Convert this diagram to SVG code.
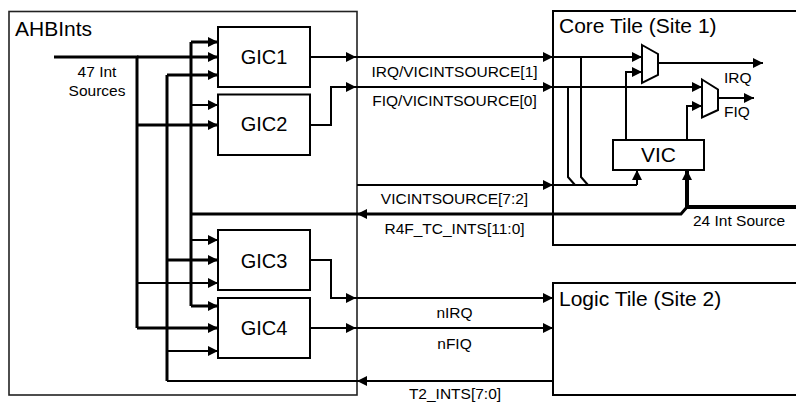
<svg xmlns="http://www.w3.org/2000/svg" width="796" height="403" viewBox="0 0 796 403">
<style>
.box{fill:#fff;stroke:#000;stroke-width:2}
.frame{fill:none;stroke:#222;stroke-width:1.6}
.t{font-family:"Liberation Sans",Arial,sans-serif;fill:#000}
.big{font-size:21px}
.gic{font-size:20px}
.sm{font-size:15.5px}
.thin{fill:none;stroke:#000;stroke-width:2}
.thk{fill:none;stroke:#000;stroke-width:3}
.xthk{fill:none;stroke:#000;stroke-width:4}
.a{marker-end:url(#ah)}
</style>
<defs>
<marker id="ah" viewBox="0 0 10 10" refX="10" refY="5" markerWidth="10" markerHeight="10" markerUnits="userSpaceOnUse" orient="auto">
<path d="M0,0 L10,5 L0,10 Z" fill="#000"/>
</marker>
</defs>

<g id="AHBInts">
<rect class="frame" x="9" y="11.5" width="348" height="383.5"/>
<text class="t big" x="15" y="36">AHBInts</text>
<text class="t sm" x="97" y="77" text-anchor="middle">47 Int</text>
<text class="t sm" x="97" y="96" text-anchor="middle">Sources</text>
</g>

<g id="CoreTile">
<rect class="box" x="553" y="11" width="260" height="234"/>
<text class="t big" x="559" y="33">Core Tile (Site 1)</text>
</g>

<g id="LogicTile">
<rect class="box" x="553" y="283" width="260" height="112"/>
<text class="t big" x="559" y="306">Logic Tile (Site 2)</text>
</g>

<g id="GIC1">
<rect class="box" x="218" y="27" width="92" height="60"/>
<text class="t gic" x="264" y="63.5" text-anchor="middle">GIC1</text>
</g>
<g id="GIC2">
<rect class="box" x="218" y="94.5" width="92" height="60.5"/>
<text class="t gic" x="264" y="131" text-anchor="middle">GIC2</text>
</g>
<g id="GIC3">
<rect class="box" x="218" y="230" width="92" height="60"/>
<text class="t gic" x="264" y="267.5" text-anchor="middle">GIC3</text>
</g>
<g id="GIC4">
<rect class="box" x="218" y="298" width="92" height="60"/>
<text class="t gic" x="264" y="334.5" text-anchor="middle">GIC4</text>
</g>

<g id="VIC">
<rect class="box" x="613" y="140" width="91" height="30"/>
<text class="t big" x="658.5" y="161.5" text-anchor="middle">VIC</text>
</g>

<g id="MUX1">
<path class="box" d="M642,45 L658,54 L658,75 L642,83 Z"/>
</g>
<g id="MUX2">
<path class="box" d="M702,79.5 L718,89.5 L718,110 L702,117.5 Z"/>
</g>

<g id="connectors">
<!-- input buses -->
<path class="thk" d="M54,57 H137 V328"/>
<path class="thk a" d="M137,57 H218"/>
<path class="thk a" d="M137,125 H218"/>
<path class="thin a" d="M137,283 H218"/>
<path class="thk a" d="M137,328 H218"/>

<path class="thk" d="M167,75 V381"/>
<path class="thk a" d="M167,75 H218"/>
<path class="thk a" d="M167,260 H218"/>
<path class="thin a" d="M167,351 H218"/>

<path class="thk" d="M191,42 V306"/>
<path class="thk a" d="M191,42 H218"/>
<path class="thin a" d="M191,105 H218"/>
<path class="thin a" d="M191,240 H218"/>
<path class="thk a" d="M191,306 H218"/>

<!-- GIC outputs -->
<path class="thin a" d="M310,57 H356"/>
<path class="thin a" d="M356,57 H553"/>
<path class="thin a" d="M553,57 H642"/>

<path class="thin a" d="M310,125 H331 V87 H356"/>
<path class="thin a" d="M356,87 H553"/>
<path class="thin a" d="M553,87 H702"/>

<path class="thin a" d="M310,260 H331 V298 H356"/>
<path class="thin a" d="M356,298 H553"/>

<path class="thin a" d="M310,328 H356"/>
<path class="thin a" d="M356,328 H553"/>

<!-- VICINTSOURCE[7:2] -->
<path class="thin a" d="M357,185 H553"/>
<path class="thin" d="M553,185 H637"/>
<path class="thin a" d="M637,185 V170"/>
<path class="thin" d="M581,57 V177 L588,185"/>
<path class="thin" d="M568,87 V177 L575,185"/>

<!-- VIC to muxes -->
<path class="thin a" d="M626,140 V72 H642"/>
<path class="thin a" d="M687,140 V106 H702"/>

<!-- mux outputs -->
<path class="thin a" d="M658,63 H763"/>
<path class="thin a" d="M718,98 H754"/>

<!-- 24 Int Source -->
<path class="xthk" d="M796,207 H687 V178"/>
<path class="thin a" d="M687,180 V170" style="stroke-width:4"/>

<!-- R4F_TC_INTS -->
<path class="thk" d="M191,214 H681 L687,207"/>
<path class="thin a" d="M380,214 H357"/>

<!-- T2_INTS -->
<path class="thin" d="M167,381 H553"/>
<path class="thin a" d="M380,381 H357"/>
</g>

<g id="labels">
<text class="t sm" x="454.5" y="77" text-anchor="middle">IRQ/VICINTSOURCE[1]</text>
<text class="t sm" x="454.5" y="106" text-anchor="middle">FIQ/VICINTSOURCE[0]</text>
<text class="t sm" x="454.5" y="204" text-anchor="middle">VICINTSOURCE[7:2]</text>
<text class="t sm" x="454.5" y="234" text-anchor="middle">R4F_TC_INTS[11:0]</text>
<text class="t sm" x="693" y="226">24 Int Source</text>
<text class="t sm" x="454.5" y="318" text-anchor="middle">nIRQ</text>
<text class="t sm" x="454.5" y="349" text-anchor="middle">nFIQ</text>
<text class="t sm" x="455" y="399" text-anchor="middle">T2_INTS[7:0]</text>
<text class="t sm" x="724" y="83">IRQ</text>
<text class="t sm" x="724" y="117">FIQ</text>
</g>
</svg>
